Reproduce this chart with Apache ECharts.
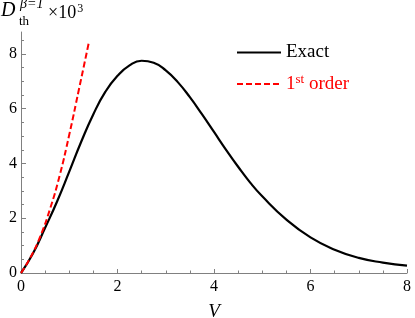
<!DOCTYPE html>
<html><head><meta charset="utf-8">
<script src="https://cdn.jsdelivr.net/npm/echarts@6/dist/echarts.min.js"></script>
<style>html,body{margin:0;padding:0;background:#fff}#c{width:415px;height:318px}</style>
</head><body><div id="c"></div>
<script>
const vExact = [0,0.25,0.5,0.75,1.0,1.25,1.5,1.75,2.0,2.25,2.5,2.75,3.0,3.25,3.5,3.75,4.0,4.25,4.5,4.75,5.0,5.5,6.0,6.5,7.0,7.5,8.0];
const dExact = [0,0.72,1.65,2.62,3.7,4.8,5.8,6.62,7.2,7.58,7.75,7.68,7.4,6.97,6.42,5.8,5.15,4.5,3.88,3.3,2.8,1.95,1.3,0.85,0.55,0.38,0.27];
const vFirst = [0,0.2,0.4,0.6,0.8,1.0,1.2,1.41];
const dFirst = [0,0.58,1.34,2.33,3.55,5.05,6.7,8.45];
const xMajor = [0,2,4,6,8];
const xMinor = [0.5,1,1.5,2.5,3,3.5,4.5,5,5.5,6.5,7,7.5];
const yMajor = [0,2,4,6,8];
const yMinor = [0.5,1,1.5,2.5,3,3.5,4.5,5,5.5,6.5,7,7.5,8.5];

const FONT = 'Liberation Serif';
const GRAY = '#808080';
const chart = echarts.init(document.getElementById('c'), null, {renderer:'canvas'});
const zip = (a,b)=>a.map((v,i)=>[v,b[i]]);
const baseAxis = {
  min:0, splitLine:{show:false},
  axisLine:{show:true, onZero:false, lineStyle:{color:GRAY, width:1}},
};
chart.setOption({
  animation:false,
  grid:{left:21,right:8,top:32,bottom:45,containLabel:false,outerBoundsMode:'none'},
  xAxis:[
    Object.assign({}, baseAxis, {type:'value', max:8, position:'bottom',
      axisTick:{show:true, inside:true, length:4, customValues:xMajor, lineStyle:{color:GRAY}},
      axisLabel:{customValues:xMajor, color:'#000', fontFamily:FONT, fontSize:16, margin:6},
      name:'V', nameLocation:'middle', nameGap:29,
      nameTextStyle:{fontFamily:FONT, fontStyle:'italic', fontSize:19, color:'#000'}}),
    Object.assign({}, baseAxis, {type:'value', max:8, position:'bottom', offset:0,
      axisLine:{show:false},
      axisTick:{show:true, inside:true, length:2.5, customValues:xMinor, lineStyle:{color:GRAY}},
      axisLabel:{show:false}})
  ],
  yAxis:[
    Object.assign({}, baseAxis, {type:'value', max:8.8, position:'left',
      axisTick:{show:true, inside:true, length:5, customValues:yMajor, lineStyle:{color:GRAY}},
      axisLabel:{customValues:yMajor, color:'#000', fontFamily:FONT, fontSize:16, margin:4}}),
    Object.assign({}, baseAxis, {type:'value', max:8.8, position:'left', offset:0,
      axisLine:{show:false},
      axisTick:{show:true, inside:true, length:3, customValues:yMinor, lineStyle:{color:GRAY}},
      axisLabel:{show:false}})
  ],
  legend:{
    orient:'vertical', left:231, top:38, itemWidth:44, itemHeight:18, itemGap:11,
    data:['Exact','1st order'],
    itemStyle:{opacity:0},
    formatter:n=> n==='Exact' ? '{b|Exact}' : '{r|1}{rs|st}{r| order}',
    textStyle:{fontFamily:FONT, fontSize:19, color:'#000',
      rich:{
        b:{fontFamily:FONT, fontSize:19, color:'#000'},
        r:{fontFamily:FONT, fontSize:19, color:'#ff0000'},
        rs:{fontFamily:FONT, fontSize:13, color:'#ff0000', verticalAlign:'top', padding:[0,0,9,0]}
      }}
  },
  series:[
    {name:'Exact', type:'line', xAxisIndex:0, yAxisIndex:0, data:zip(vExact,dExact),
     smooth:0.5, symbol:'none', lineStyle:{color:'#000', width:2.2}, itemStyle:{color:'#000'}, z:3},
    {name:'1st order', type:'line', xAxisIndex:0, yAxisIndex:0, data:zip(vFirst,dFirst),
     smooth:0.5, symbol:'none', lineStyle:{color:'#ff0000', width:2, type:[6,3]}, itemStyle:{color:'#ff0000'}, z:4}
  ],
  graphic:[
    {type:'text', left:1, top:1, style:{text:'D', font:'italic 20px "Liberation Serif"', fill:'#000'}},
    {type:'text', left:20, top:-3, style:{text:'β=1', font:'italic 14px "Liberation Serif"', fill:'#000'}},
    {type:'text', left:19, top:15, style:{text:'th', font:'13px "Liberation Serif"', fill:'#000'}},
    {type:'text', left:48, top:3, style:{text:'{a|×10}{s|3}', rich:{
      a:{font:'18px "Liberation Serif"', fill:'#000', color:'#000'},
      s:{font:'12px "Liberation Serif"', fill:'#000', color:'#000', verticalAlign:'top', padding:[0,0,8,1]}}}}
  ]
});
</script></body></html>
